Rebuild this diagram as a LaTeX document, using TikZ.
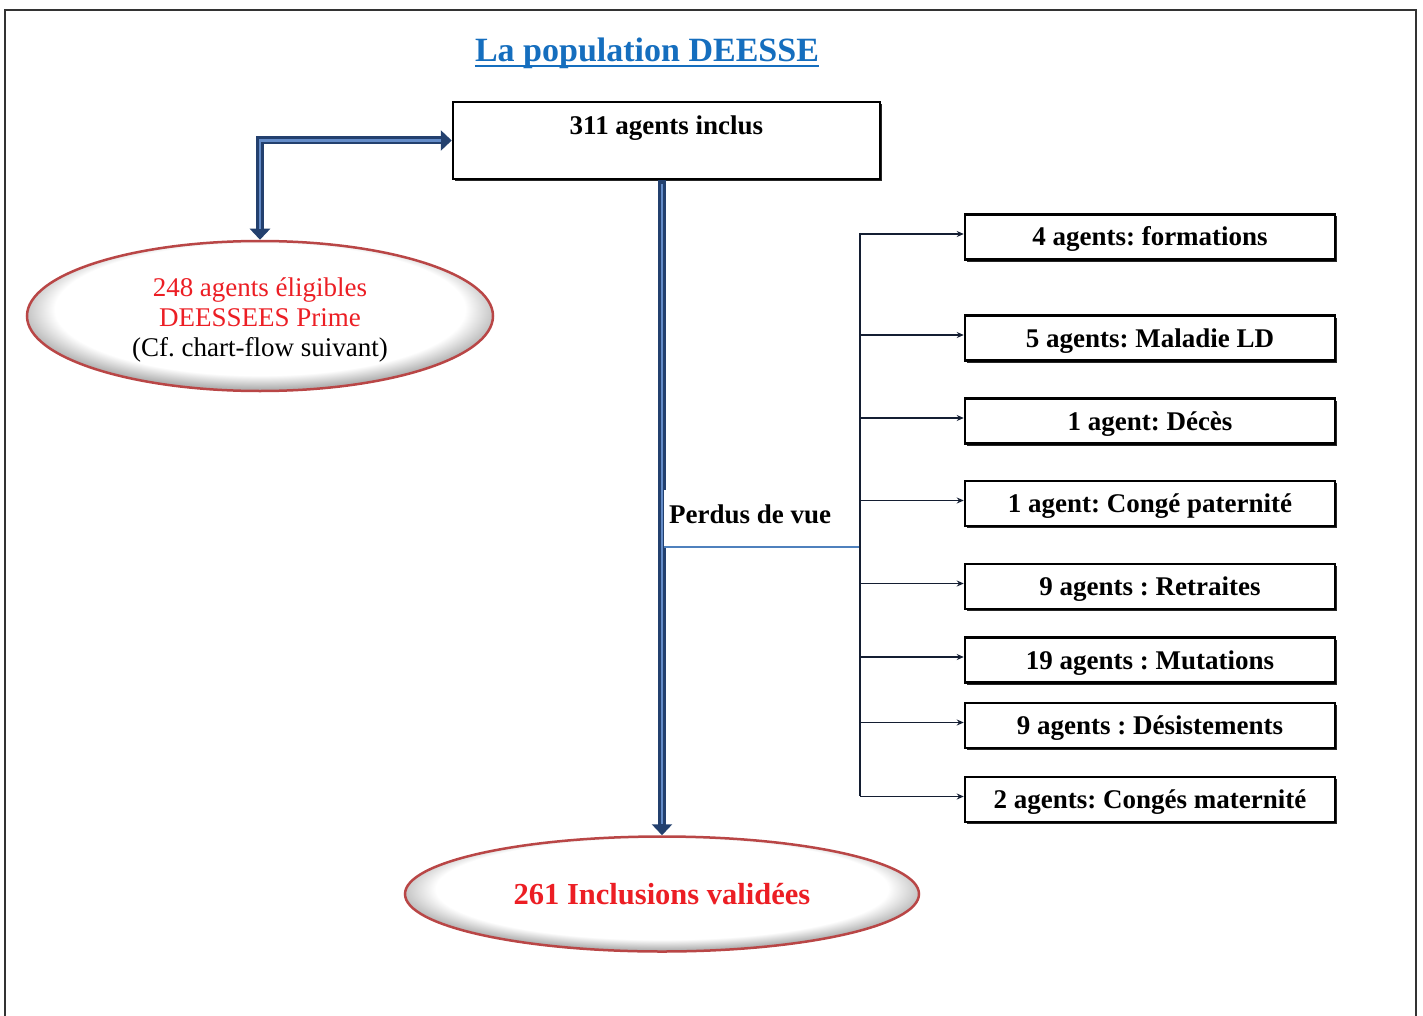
\documentclass[tikz,border=0pt]{standalone}
\usepackage{fontspec}
\setmainfont{Liberation Serif}
\frenchspacing
\usetikzlibrary{shapes.geometric,arrows.meta,shadows}
\definecolor{titleblue}{RGB}{21,110,190}
\definecolor{txtred}{RGB}{236,30,36}
\definecolor{ellred}{RGB}{185,70,70}
\definecolor{arrdark}{RGB}{35,64,110}
\definecolor{arrlight}{RGB}{100,140,200}
\definecolor{thinblue}{RGB}{79,129,189}
\definecolor{spinecol}{RGB}{20,30,50}
\pgfdeclareradialshading{rim}{\pgfpoint{0bp}{4bp}}{color(0bp)=(white);color(22bp)=(white);color(26bp)=(black!30);color(50bp)=(black!30)}
\begin{document}
\begin{tikzpicture}[x=1pt,y=-1pt,
  box/.style={draw=black,line width=2.5pt,fill=white,inner sep=0pt,
    minimum width=370pt,minimum height=45pt,text height=22pt,text depth=4pt,
    font=\fontsize{27}{30}\selectfont\bfseries,
    drop shadow={shadow xshift=1.5pt,shadow yshift=-2pt,fill=black!85,opacity=1}},
  ell/.style={ellipse,draw=ellred,line width=2.5pt,shading=rim,inner sep=0pt,
    align=center},
  bigarr/.style={line width=8pt,draw=arrdark},
  bighl/.style={line width=2.5pt,draw=arrlight},
  thinarr/.style={line width=1.5pt,draw=spinecol,-{Stealth[length=7pt,width=6pt]}},
]
\useasboundingbox (0,0) rectangle (1423,1016);
% frame
\draw[black!80,line width=2pt] (5,1040) -- (5,10) -- (1416,10) -- (1416,1040);

% title
\node[anchor=base,text=titleblue,font=\fontsize{34}{40}\selectfont\bfseries,inner sep=0pt] (title) at (647,62) {La population DEESSE};
\draw[titleblue,line width=2.5pt] ([yshift=-4pt]title.base west) -- ([yshift=-4pt]title.base east);

% top box
\node[box,minimum width=427pt,minimum height=77pt,text height=,text depth=] (top) at (666.5,140.5) {};
\node[anchor=north,inner sep=0pt,font=\fontsize{27}{30}\selectfont\bfseries] (topt) at ([yshift=-15pt]top.north) {311 agents inclus};

% ellipses
\node[ell,minimum width=466pt,minimum height=150pt,font=\fontsize{27}{30}\selectfont] (e1) at (260,316)
  {\\[-3pt]\textcolor{txtred}{248 agents éligibles}\\\textcolor{txtred}{DEESSEES Prime}\\(Cf. chart-flow suivant)};
\node[ell,minimum width=514pt,minimum height=115pt,font=\fontsize{30.5}{34}\selectfont\bfseries,text=txtred] (e2) at (662,894)
  {261 Inclusions validées};

% right boxes
\node[box] (b1) at (1150,237) {4 agents: formations};
\node[box] (b2) at (1150,338) {5 agents: Maladie LD};
\node[box] (b3) at (1150,421) {1 agent: Décès};
\node[box] (b4) at (1150,503.5) {1 agent: Congé paternité};
\node[box] (b5) at (1150,586.5) {9 agents : Retraites};
\node[box] (b6) at (1150,660) {19 agents : Mutations};
\node[box] (b7) at (1150,725.5) {9 agents : Désistements};
\node[box] (b8) at (1150,799.5) {2 agents: Congés maternité};

% elbow double arrow
\draw[bigarr,{Triangle[width=20pt,length=11pt]}-{Triangle[width=20pt,length=11pt]}] (e1.north) |- (top.west);
\draw[bighl,shorten <=11pt,shorten >=11pt] (e1.north) |- (top.west);

% main vertical arrow
\draw[bigarr,-{Triangle[width=20pt,length=11pt]}] (e2.north |- top.south) -- (e2.north);
\draw[bighl,shorten >=11pt] ([yshift=-4pt]e2.north |- top.south) -- (e2.north);

% perdus de vue
\node[fill=white,anchor=south west,minimum width=196pt,minimum height=57pt,inner sep=0pt,
  font=\fontsize{27}{30}\selectfont\bfseries] (pdv) at (664,547)
  {\makebox[186pt][l]{\raisebox{8pt}{Perdus de vue}}};
\draw[thinblue,line width=2pt] (pdv.south west) -- (pdv.south east);

% spine
\coordinate (sp1) at (860,233);
\coordinate (sp2) at (860,796);
\draw[spinecol,line width=1.5pt] (sp1) -- (sp2);
\foreach \b in {b1,b2,b3,b4,b5,b6,b7,b8}{
  \draw[thinarr] ([yshift=3pt]\b.west -| sp1) -- ([yshift=3pt]\b.west);
}
\end{tikzpicture}
\end{document}
